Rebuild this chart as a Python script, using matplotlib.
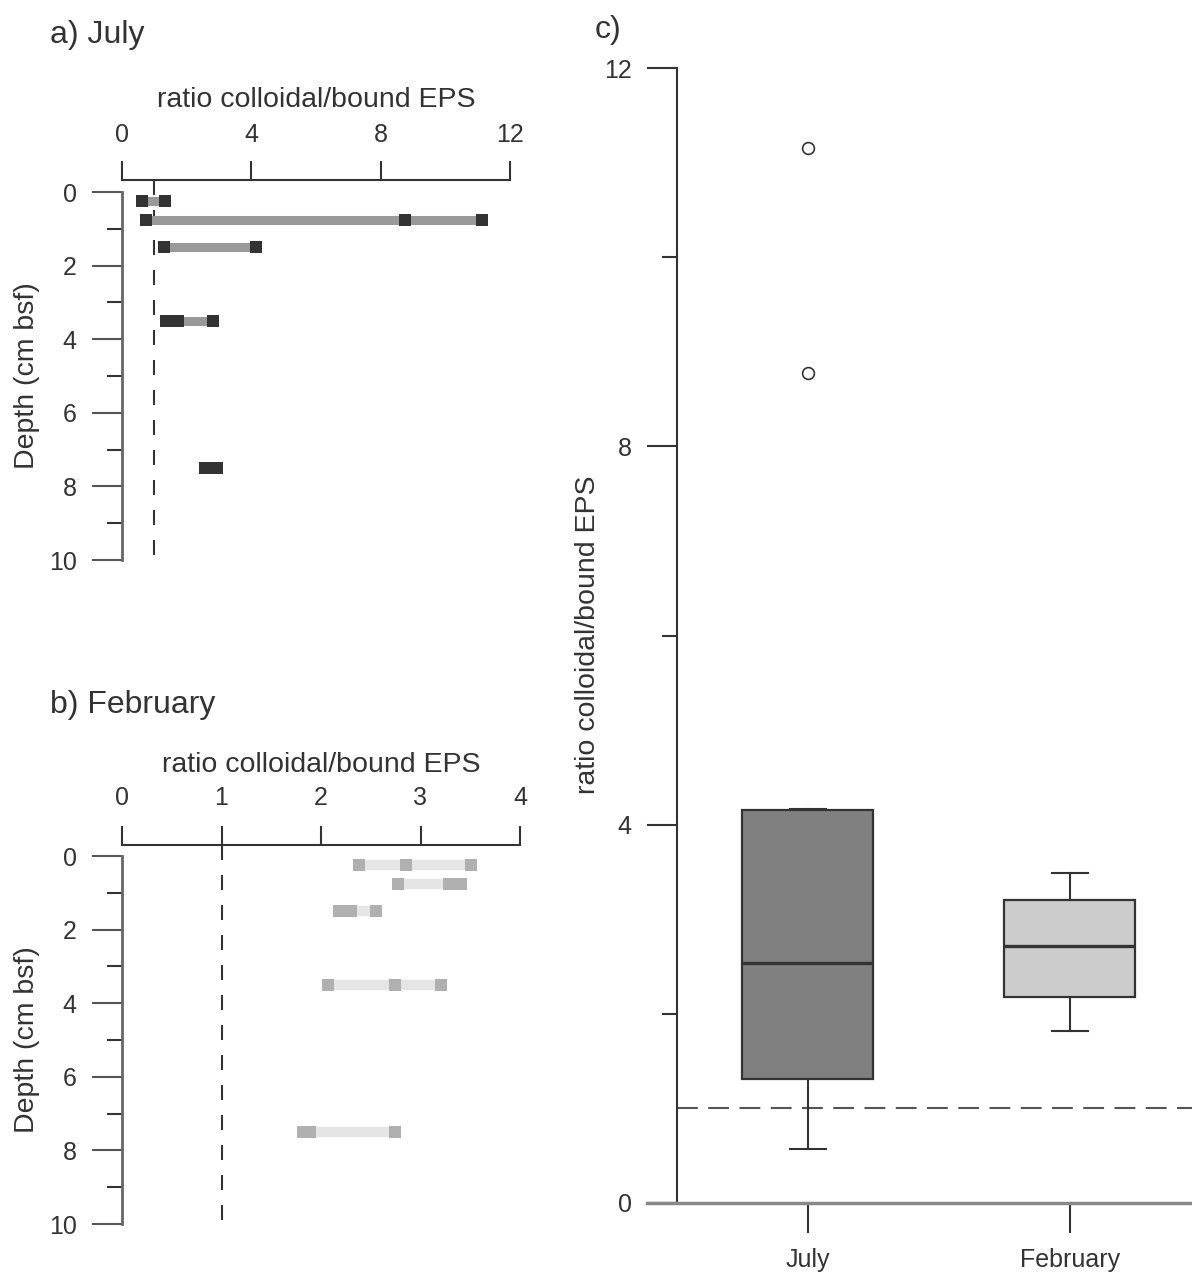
import matplotlib
matplotlib.use("Agg")
import matplotlib.pyplot as plt
import matplotlib.transforms as mtransforms

plt.rcParams['font.family'] = ['Liberation Sans', 'DejaVu Sans']

# panel a) July : ratio colloidal/bound EPS per depth (cm bsf)
july_depth = [0.25, 0.75, 1.5, 3.5, 7.5]
july_ratio = [[0.62, 1.33],
              [0.74, 8.75, 11.13],
              [1.30, 4.14],
              [1.35, 1.72, 2.82],
              [2.56, 2.93]]

# panel b) February
feb_depth = [0.25, 0.75, 1.5, 3.5, 7.5]
feb_ratio = [[2.38, 2.85, 3.51],
             [2.77, 3.29, 3.41],
             [2.18, 2.30, 2.55],
             [2.07, 2.74, 3.21],
             [1.82, 1.89, 2.74]]

# panel c) boxplot summaries
box_labels = ["July", "February"]
box_low = [0.57, 1.82]
box_q1 = [1.31, 2.18]
box_med = [2.54, 2.72]
box_q3 = [4.15, 3.20]
box_high = [4.17, 3.49]
box_fliers = [[8.78, 11.15], []]
box_colors = ["#808080", "#cccccc"]

W, H = 1192, 1274
fig = plt.figure(figsize=(W / 100, H / 100), dpi=100)

TXT = "#333333"
FS = 18      # tick labels
LFS = 20.5   # axis labels


def fx(px):
    return px / W


def fy(py):
    return 1 - py / H


def depth_panel(x0, x1, ytop, y0, y10, xmax, xticks, depth, ratios, mcol, lcol, lw, tpad):
    top_val = -(y0 - ytop) / ((y10 - y0) / 10.0)
    ax = fig.add_axes([fx(x0), fy(y10), fx(x1) - fx(x0), fy(ytop) - fy(y10)])
    ax.set_xlim(0, xmax)
    ax.set_ylim(10, top_val)
    for s in ["right", "bottom"]:
        ax.spines[s].set_visible(False)
    ax.spines["left"].set_bounds(0, 10)
    ax.spines["left"].set_color("#666666")
    ax.spines["left"].set_linewidth(2)
    ax.spines["top"].set_color(TXT)
    ax.spines["top"].set_linewidth(1.5)
    ax.xaxis.tick_top()
    ax.set_xticks(xticks)
    ax.set_xticklabels([str(t) for t in xticks])
    ax.tick_params(axis="x", length=14, width=1.5, color=TXT, pad=tpad,
                   labelsize=FS, labelcolor=TXT)
    ax.set_yticks(range(0, 11, 2))
    ax.set_yticks(range(1, 10, 2), minor=True)
    ax.tick_params(axis="y", which="major", length=21.6, width=1.5, color="#555555",
                   pad=11, labelsize=FS, labelcolor=TXT)
    ax.tick_params(axis="y", which="minor", length=10.8, width=1.5, color="#333333")
    ax.plot([1, 1], [top_val, 10], color=TXT, lw=1.5, dashes=(7.2, 7.2), zorder=1)
    for d, vals in zip(depth, ratios):
        ax.plot([min(vals), max(vals)], [d, d], color=lcol, lw=lw,
                solid_capstyle="butt", zorder=2)
        ax.plot(vals, [d] * len(vals), ls="none", marker="s", ms=9.2,
                mfc=mcol, mec=mcol, mew=0, zorder=3)
    fig.text(fx((x0 + x1) / 2), fy(ytop - 80), "ratio colloidal/bound EPS",
             ha="center", va="center", fontsize=LFS, color=TXT)
    fig.text(fx(27), fy((y0 + y10) / 2), "Depth (cm bsf)", rotation=90,
             ha="center", va="center", fontsize=LFS, color=TXT)
    return ax


depth_panel(122, 510, 180, 192, 560, 12, [0, 4, 8, 12], july_depth, july_ratio,
            "#333333", "#999999", 6.5, 10)
depth_panel(122, 520, 845, 856, 1224, 4, [0, 1, 2, 3, 4], feb_depth, feb_ratio,
            "#b0b0b0", "#e5e5e5", 7.5, 11)

fig.text(fx(50), fy(35), "a) July", ha="left", va="center", fontsize=23, color=TXT)
fig.text(fx(50), fy(705), "b) February", ha="left", va="center", fontsize=23, color=TXT)
fig.text(fx(595), fy(30), "c)", ha="left", va="center", fontsize=23, color=TXT)

# panel c
axc = fig.add_axes([fx(677), fy(1203), 1 - fx(677), fy(68) - fy(1203)])
axc.set_xlim(0.5, 2.466)
axc.set_ylim(0, 12)
stats = []
for i in range(len(box_labels)):
    stats.append(dict(whislo=box_low[i], q1=box_q1[i], med=box_med[i], q3=box_q3[i],
                      whishi=box_high[i], fliers=box_fliers[i], label=box_labels[i]))
bp = axc.bxp(stats, positions=[1, 2], widths=0.5, patch_artist=True,
             capwidths=0.137,
             boxprops=dict(edgecolor=TXT, linewidth=1.6),
             medianprops=dict(color=TXT, linewidth=2.4),
             whiskerprops=dict(color=TXT, linewidth=1.5),
             capprops=dict(color=TXT, linewidth=1.5),
             flierprops=dict(marker="o", ms=8.5, mfc="white", mec=TXT, mew=1.2))
for patch, c in zip(bp["boxes"], box_colors):
    patch.set_facecolor(c)
axc.axhline(1, color="#555555", lw=1.5, dashes=(10, 5), zorder=0.5)
for s in ["right", "top", "bottom"]:
    axc.spines[s].set_visible(False)
axc.spines["left"].set_color(TXT)
axc.spines["left"].set_linewidth(1.5)
trans = mtransforms.blended_transform_factory(axc.transAxes, axc.transData)
axc.plot([(647 - 677) / (W - 677), 1.0], [0, 0], transform=trans, color="#888888",
         lw=2.5, clip_on=False, zorder=3)
axc.set_yticks([0, 4, 8, 12])
axc.set_yticks([2, 6, 10], minor=True)
axc.tick_params(axis="y", which="major", length=21.6, width=1.5, color=TXT, pad=11,
                labelsize=FS, labelcolor=TXT)
axc.tick_params(axis="y", which="minor", length=10.8, width=1.5, color=TXT)
axc.set_xticks([1, 2])
axc.set_xticklabels(box_labels)
axc.tick_params(axis="x", length=21.6, width=1.5, color=TXT, pad=11,
                labelsize=FS, labelcolor=TXT)
fig.text(fx(588), fy(635), "ratio colloidal/bound EPS", rotation=90,
         ha="center", va="center", fontsize=LFS, color=TXT)

fig.savefig("out.png", dpi=100)
